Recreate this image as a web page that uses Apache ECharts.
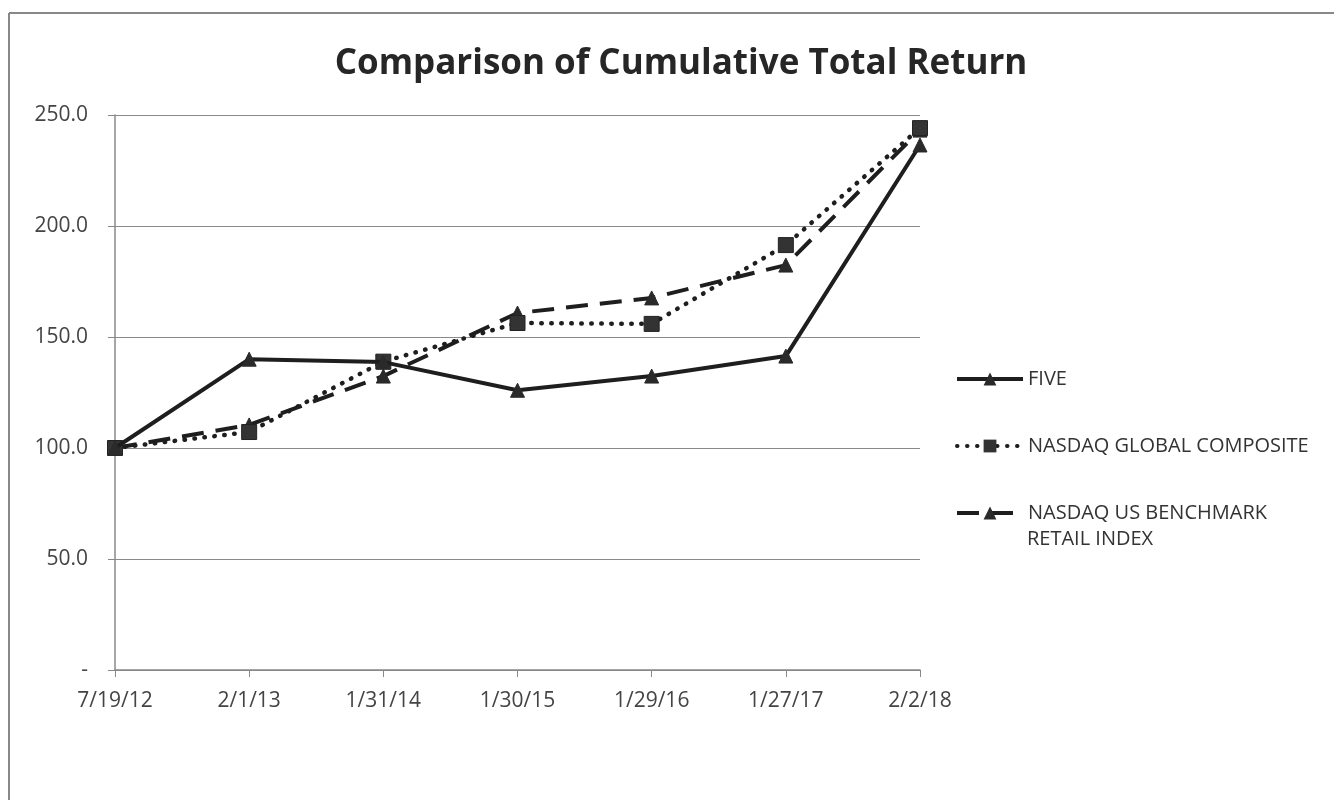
<!DOCTYPE html>
<html>
<head>
<meta charset="utf-8">
<script src="https://cdn.jsdelivr.net/npm/echarts@6/dist/echarts.min.js"></script>
<style>
html,body{margin:0;padding:0;background:#fff;}
#chart{width:1334px;height:800px;}
</style>
</head>
<body>
<div id="chart"></div>
<script>
const categories = ['7/19/12', '2/1/13', '1/31/14', '1/30/15', '1/29/16', '1/27/17', '2/2/18'];
const fiveValues = [100.0, 140.0, 138.7, 126.0, 132.4, 141.4, 236.5];
const globalCompositeValues = [100.0, 107.2, 138.9, 156.3, 155.9, 191.4, 244.1];
const retailIndexValues = [100.0, 110.4, 132.4, 160.8, 167.6, 182.4, 243.2];
const seriesNames = ['FIVE', 'NASDAQ GLOBAL COMPOSITE', 'NASDAQ US BENCHMARK RETAIL INDEX'];
const yTicks = { min: 0, max: 250, interval: 50 };

const FONT = '"Open Sans", "Noto Sans", sans-serif';
const INK = '#1e1e1e';

const chart = echarts.init(document.getElementById('chart'));
const legendBase = {
  orient: 'vertical', left: 950, itemWidth: 66, itemHeight: 16, itemGap: 0,
  textStyle: { fontFamily: FONT, fontSize: 20, color: '#333' },
  lineStyle: { width: 4 },
  selectedMode: false
};
chart.setOption({
  animation: false,
  backgroundColor: '#fff',
  title: {
    text: 'Comparison of Cumulative Total Return',
    left: 676, textAlign: 'center', top: 42,
    textStyle: { fontFamily: FONT, fontWeight: 'bold', fontSize: 35, color: '#262626' }
  },
  graphic: [
    { type: 'line', shape: { x1: 9, y1: 13, x2: 1334, y2: 13 }, style: { stroke: '#888', lineWidth: 2 } },
    { type: 'line', shape: { x1: 9, y1: 13, x2: 9, y2: 800 }, style: { stroke: '#888', lineWidth: 2 } },
    { type: 'text', left: 1027, top: 529, style: { text: 'RETAIL INDEX', fontFamily: FONT, fontSize: 20, fill: '#333' } }
  ],
  legend: [
    Object.assign({}, legendBase, { top: 364, data: [seriesNames[0]] }),
    Object.assign({}, legendBase, { top: 431, data: [seriesNames[1]] }),
    Object.assign({}, legendBase, { top: 498, data: [seriesNames[2]], formatter: () => 'NASDAQ US BENCHMARK' })
  ],
  grid: { left: 115, right: 414, top: 115, bottom: 130 },
  xAxis: {
    type: 'category', data: categories, boundaryGap: false,
    axisLine: { lineStyle: { color: '#888', width: 1.5 } },
    axisTick: { show: true, length: 7, lineStyle: { color: '#888' } },
    axisLabel: { fontFamily: FONT, fontSize: 21, color: '#444', margin: 21 }
  },
  yAxis: {
    type: 'value', min: yTicks.min, max: yTicks.max, interval: yTicks.interval,
    axisLine: { show: true, lineStyle: { color: '#888', width: 1.5 } },
    axisTick: { show: true, length: 7, lineStyle: { color: '#888' } },
    splitLine: { lineStyle: { color: '#8a8a8a', width: 1.2 } },
    axisLabel: { fontFamily: FONT, fontSize: 21, color: '#444', margin: 27,
      formatter: v => v === 0 ? '-' : v.toFixed(1) }
  },
  series: [
    {
      name: seriesNames[0], type: 'line', data: fiveValues, z: 5,
      symbol: 'triangle', symbolSize: 14,
      lineStyle: { color: INK, width: 4, type: 'solid' },
      itemStyle: { color: '#2a2a2a', borderColor: '#2a2a2a' }
    },
    {
      name: seriesNames[1], type: 'line', data: globalCompositeValues, z: 4,
      symbol: 'rect', symbolSize: 15,
      lineStyle: { color: INK, width: 4.5, type: [0.5, 9.5], cap: 'round' },
      itemStyle: { color: '#333', borderColor: '#222' }
    },
    {
      name: seriesNames[2], type: 'line', data: retailIndexValues, z: 3,
      symbol: 'triangle', symbolSize: 14,
      lineStyle: { color: INK, width: 4, type: [22, 12] },
      itemStyle: { color: '#2a2a2a', borderColor: '#2a2a2a' }
    }
  ]
});
</script>
</body>
</html>
